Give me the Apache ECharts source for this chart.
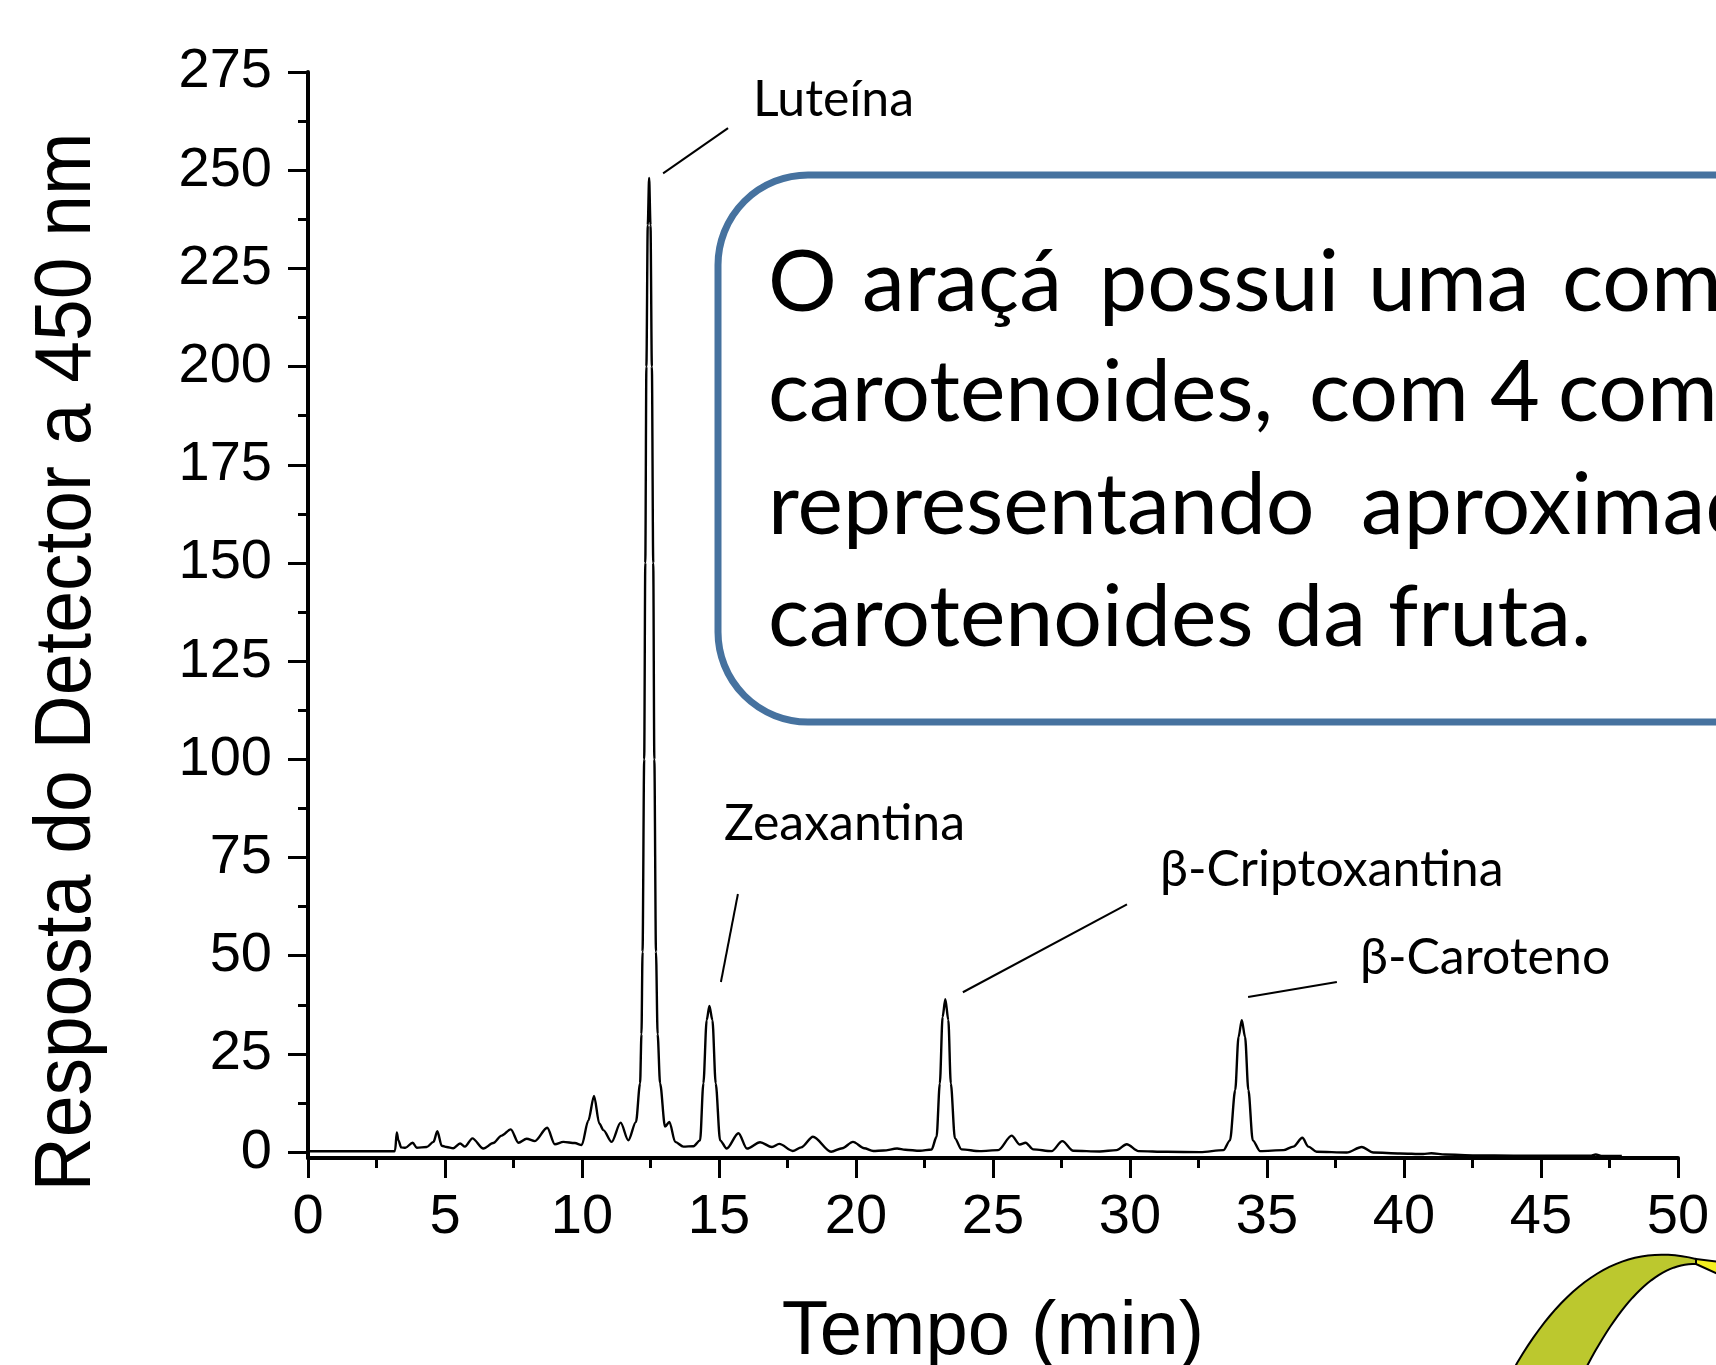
<!DOCTYPE html>
<html>
<head>
<meta charset="utf-8">
<script src="https://cdn.jsdelivr.net/npm/echarts@6/dist/echarts.min.js"></script>
<style>
html,body{margin:0;padding:0;background:#fff;}
#chart{width:1716px;height:1365px;}
</style>
</head>
<body>
<div id="chart"></div>
<script>
// Retention time (min)
const times = [0, 3.15, 3.18, 3.24, 3.3, 3.4, 3.55, 3.82, 3.97, 4.33, 4.58, 4.72, 4.88, 5.06, 5.3, 5.55, 5.73, 6.0, 6.4, 6.76, 7.07, 7.4, 7.68, 7.98, 8.28, 8.73, 9.01, 9.32, 9.74, 9.99, 10.23, 10.44, 10.63, 10.78, 11.08, 11.41, 11.69, 11.97, 12.12, 12.17, 12.21, 12.27, 12.31, 12.35, 12.40, 12.45, 12.50, 12.55, 12.60, 12.64, 12.70, 12.76, 12.85, 13.03, 13.19, 13.4, 13.7, 14.07, 14.31, 14.43, 14.55, 14.65, 14.76, 14.88, 15.04, 15.28, 15.71, 16.02, 16.5, 16.93, 17.2, 17.69, 18.0, 18.43, 19.09, 19.5, 19.89, 20.3, 20.63, 21.0, 21.5, 21.8, 22.33, 22.76, 22.94, 23.06, 23.16, 23.26, 23.37, 23.46, 23.61, 23.85, 24.52, 25.19, 25.68, 25.98, 26.19, 26.47, 27.14, 27.53, 27.93, 28.9, 29.51, 29.88, 30.31, 31.34, 32.56, 33.41, 33.65, 33.84, 33.96, 34.08, 34.2, 34.32, 34.48, 34.75, 35.6, 35.96, 36.29, 36.51, 36.81, 37.91, 38.46, 38.88, 39.86, 40.7, 41.0, 41.5, 42.6, 44.0, 46.8, 47.0, 47.2, 47.95];
// Detector response at 450 nm
const response = [0.2, 0.2, 0.5, 5.0, 3.0, 1.2, 1.1, 2.4, 1.1, 1.3, 2.6, 5.3, 1.6, 1.3, 1.0, 2.2, 1.4, 3.5, 0.9, 2.3, 4.2, 5.8, 2.4, 3.4, 2.8, 6.2, 2.0, 2.6, 2.3, 1.8, 8.0, 14.3, 7.3, 5.6, 2.6, 7.5, 3.0, 7.7, 17.5, 30, 51, 100, 150, 200, 236, 248, 236, 200, 150, 100, 51, 30, 17.5, 6.5, 7.7, 2.6, 1.4, 1.5, 3.0, 17.5, 33.6, 37.2, 33.6, 17.5, 3.0, 0.9, 4.8, 0.9, 2.5, 1.3, 2.1, 0.3, 1.2, 3.9, 0.1, 1.0, 2.6, 1.0, 0.3, 0.4, 0.9, 0.6, 0.34, 0.68, 3.9, 17.5, 34.4, 38.9, 33.6, 17.5, 3.5, 0.7, 0.25, 0.5, 4.2, 1.95, 2.4, 0.7, 0.25, 2.8, 0.34, 0.17, 0.5, 2.0, 0.25, 0.08, 0.0, 0.5, 3.0, 15.8, 29.3, 33.6, 29.3, 15.8, 3.0, 0.25, 0.5, 1.4, 3.65, 1.4, 0.1, -0.1, 1.3, -0.1, -0.35, -0.5, -0.3, -0.6, -0.85, -0.9, -0.9, -0.6, -0.95, -1.0];

const yTickValues = [0, 25, 50, 75, 100, 125, 150, 175, 200, 225, 250, 275];
const yMinorTickValues = [12.5, 37.5, 62.5, 87.5, 112.5, 137.5, 162.5, 187.5, 212.5, 237.5, 262.5];

// Peak names and leader line ends [time, response]
const peakNames = ['Luteína', 'Zeaxantina', 'β-Criptoxantina', 'β-Caroteno'];
const leaderStart = [[12.96, 249.2], [15.07, 43.3], [23.9, 40.7], [34.31, 39.5]];
const leaderEnd = [[15.33, 260.7], [15.69, 65.7], [29.89, 63.1], [37.55, 43.3]];

const noteWords = [
  ['O', 'araçá', 'possui', 'uma', 'composição'],
  ['carotenoides,', 'com', '4', 'compostos'],
  ['representando', 'aproximadamente'],
  ['carotenoides', 'da', 'fruta.']
];

const chart = echarts.init(document.getElementById('chart'));
const seriesData = times.map((t, i) => [t, response[i]]);

// layout of annotation texts (pixels)
const labelPos = [[753, 100], [724, 824], [1160, 870], [1360, 958]];
const wordX = [[768, 862, 1099, 1368, 1562], [768, 1309, 1490, 1558], [768, 1361], [768, 1275, 1388]];
const lineY = [283, 393, 506, 618];

const graphics = [];
graphics.push({
  type: 'text', x: 68, y: 662, rotation: Math.PI / 2, scaleY: 1.07, z: 5,
  style: { text: 'Resposta do Detector a 450 nm', font: '75px "Liberation Sans"', fill: '#000', align: 'center', verticalAlign: 'middle' }
});
peakNames.forEach((n, i) => {
  graphics.push({ type: 'text', x: labelPos[i][0], y: labelPos[i][1], z: 5,
    style: { text: n, font: '50px Lato', fill: '#000', align: 'left', verticalAlign: 'middle' } });
});
graphics.push({
  type: 'rect', z: 6,
  shape: { x: 718, y: 175, width: 1150, height: 547, r: 90 },
  style: { fill: '#fff', stroke: '#46729F', lineWidth: 7 }
});
noteWords.forEach((line, li) => {
  line.forEach((w, wi) => {
    graphics.push({ type: 'text', x: wordX[li][wi], y: lineY[li], z: 7,
      style: { text: w, font: '86px Lato', fill: '#000', align: 'left', verticalAlign: 'middle' } });
  });
});
// decorative fruit shape (bottom right)
function quad(p0, c, p1, n) {
  const pts = [];
  for (let i = 0; i <= n; i++) {
    const s = i / n;
    pts.push([(1 - s) * (1 - s) * p0[0] + 2 * (1 - s) * s * c[0] + s * s * p1[0],
              (1 - s) * (1 - s) * p0[1] + 2 * (1 - s) * s * c[1] + s * s * p1[1]]);
  }
  return pts;
}
const outer = quad([1512, 1372], [1590, 1232], [1696, 1259], 30);
const inner = quad([1696, 1264], [1640, 1262], [1584, 1372], 30);
graphics.push({ type: 'polygon', z: 8, shape: { points: outer.concat(inner) },
  style: { fill: '#BCC82E', stroke: '#000', lineWidth: 2 } });
graphics.push({ type: 'polygon', z: 8, shape: { points: [[1696, 1259], [1720, 1262], [1720, 1275], [1696, 1264]] },
  style: { fill: '#F4F020', stroke: '#000', lineWidth: 2 } });

const option = {
  animation: false,
  backgroundColor: '#fff',
  grid: { left: 308, right: 38, top: 72, bottom: 207, containLabel: false, outerBoundsMode: 'none' },
  xAxis: {
    type: 'value', min: 0, max: 50, interval: 5,
    name: 'Tempo (min)', nameLocation: 'middle', nameGap: 137,
    nameTextStyle: { fontFamily: 'Liberation Sans', fontSize: 76, color: '#000' },
    axisLine: { onZero: false, lineStyle: { color: '#000', width: 4 } },
    axisTick: { length: 20, lineStyle: { color: '#000', width: 3 } },
    minorTick: { show: true, splitNumber: 2, length: 10, lineStyle: { color: '#000', width: 3 } },
    axisLabel: { fontFamily: 'Liberation Sans', fontSize: 56, color: '#000', margin: 32 },
    splitLine: { show: false }, minorSplitLine: { show: false }
  },
  yAxis: [{
    type: 'value', min: -1.5, max: 275, position: 'left',
    axisLine: { show: true, onZero: false, lineStyle: { color: '#000', width: 4 } },
    axisTick: { show: true, length: 20, customValues: yTickValues, lineStyle: { color: '#000', width: 3 } },
    axisLabel: { show: true, customValues: yTickValues, fontFamily: 'Liberation Sans', fontSize: 56, color: '#000', margin: 36 },
    splitLine: { show: false }
  }, {
    type: 'value', min: -1.5, max: 275, position: 'left',
    axisLine: { show: false },
    axisTick: { show: true, length: 10, customValues: yMinorTickValues, lineStyle: { color: '#000', width: 3 } },
    axisLabel: { show: false },
    splitLine: { show: false }
  }],
  series: [{
    type: 'line', yAxisIndex: 0, data: seriesData, showSymbol: false,
    smooth: 0.3, smoothMonotone: 'x',
    lineStyle: { color: '#000', width: 2.4 },
    markLine: {
      silent: true, symbol: 'none', label: { show: false },
      lineStyle: { color: '#000', width: 2, type: 'solid' },
      data: leaderStart.map((s, i) => [{ coord: s }, { coord: leaderEnd[i] }])
    }
  }],
  graphic: graphics
};
chart.setOption(option);
</script>
</body>
</html>
